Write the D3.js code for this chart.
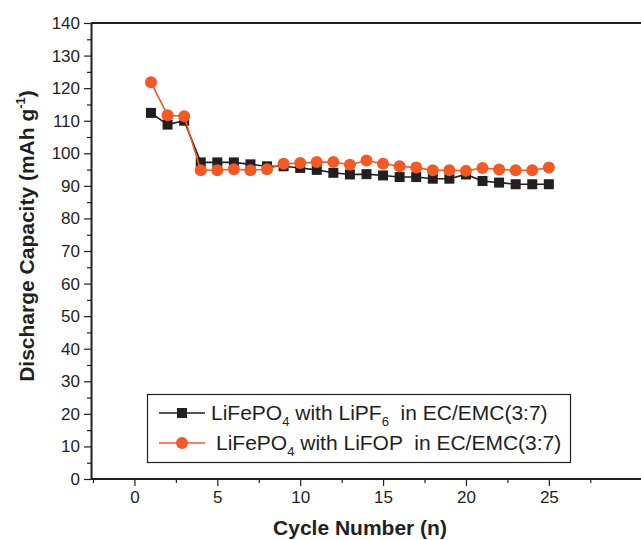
<!DOCTYPE html>
<html>
<head>
<meta charset="utf-8">
<script src="https://cdn.jsdelivr.net/npm/d3@7"></script>
<style>
  body { margin: 0; background: #fff; }
  text { font-family: Arial, "Liberation Sans", sans-serif; fill: #231f20; }
</style>
</head>
<body>
<div id="chart"></div>
<script>
// cycle numbers and discharge capacities
const cycles = d3.range(1, 26);
const lipf6 = [112.4, 108.8, 110.0, 97.2, 97.2, 97.2, 96.6, 96.0, 96.0, 95.5,
               94.9, 94.0, 93.5, 93.6, 93.2, 92.7, 92.7, 92.2, 92.2, 93.5,
               91.5, 91.0, 90.5, 90.5, 90.5];
const lifop = [121.8, 111.7, 111.4, 94.8, 94.8, 95.1, 94.8, 95.1, 96.8, 97.0,
               97.3, 97.3, 96.5, 97.8, 96.8, 96.0, 95.6, 94.8, 94.8, 94.6,
               95.5, 95.0, 94.8, 94.8, 95.6];
const xTicks = [0, 5, 10, 15, 20, 25];
const yTicks = d3.range(0, 141, 10);

const black = "#231f20";
const orange = "#f15a24";

const svg = d3.select("#chart").append("svg")
  .attr("width", 641).attr("height", 540);

const x = d3.scaleLinear().domain([-2.62, 30.5]).range([91, 640]);
const y = d3.scaleLinear().domain([0, 140]).range([479, 23]);
const x0 = x.domain()[0];

// frame: left axis, bottom axis and top border
svg.append("line").attr("x1", x(x0)).attr("x2", 641).attr("y1", y(140)).attr("y2", y(140))
  .attr("stroke", black).attr("stroke-width", 2);

const xAxis = svg.append("g").attr("transform", `translate(0,${y(0)})`)
  .call(d3.axisBottom(x).tickValues(xTicks).tickSize(7).tickSizeOuter(0).tickPadding(5));
svg.append("g").attr("transform", `translate(0,${y(0)})`)
  .call(d3.axisBottom(x).tickValues(d3.range(-2.5, 30, 5)).tickSize(4).tickFormat(""))
  .select(".domain").remove();

const yAxis = svg.append("g").attr("transform", `translate(${x(x0)},0)`)
  .call(d3.axisLeft(y).tickValues(yTicks).tickSize(7).tickSizeOuter(0).tickPadding(4));
svg.append("g").attr("transform", `translate(${x(x0)},0)`)
  .call(d3.axisLeft(y).tickValues(d3.range(5, 140, 10)).tickSize(4).tickFormat(""))
  .select(".domain").remove();

svg.selectAll(".domain").attr("stroke", black).attr("stroke-width", 2);
svg.selectAll(".tick line").attr("stroke", black).attr("stroke-width", 1.2);
svg.selectAll(".tick text").attr("font-size", 17).attr("fill", black)
  .attr("font-family", "Arial, 'Liberation Sans', sans-serif");
xAxis.select(".domain").attr("d", `M${x(x0)},0H641`);

// series
const series = [
  {values: lipf6, color: black, shape: "square"},
  {values: lifop, color: orange, shape: "circle"}
];

series.forEach(s => {
  const pts = cycles.map((c, i) => [c, s.values[i]]);
  svg.append("path")
    .attr("d", d3.line().x(d => x(d[0])).y(d => y(d[1]))(pts))
    .attr("fill", "none").attr("stroke", s.color).attr("stroke-width", 1.6);
  if (s.shape === "square") {
    svg.append("g").selectAll("rect").data(pts).join("rect")
      .attr("x", d => x(d[0]) - 5).attr("y", d => y(d[1]) - 5)
      .attr("width", 10).attr("height", 10).attr("fill", s.color);
  } else {
    svg.append("g").selectAll("circle").data(pts).join("circle")
      .attr("cx", d => x(d[0])).attr("cy", d => y(d[1]))
      .attr("r", 6).attr("fill", s.color);
  }
});

// legend
const lg = svg.append("g");
lg.append("rect").attr("x", 147.5).attr("y", 394.5).attr("width", 423).attr("height", 68)
  .attr("fill", "#fff").attr("stroke", black).attr("stroke-width", 1.2);

const legendRows = [
  {color: black, shape: "square", y: 413, tx: 211, parts: ["LiFePO", "4", " with LiPF", "6", "  in EC/EMC(3:7)"]},
  {color: orange, shape: "circle", y: 443, tx: 216, parts: ["LiFePO", "4", " with LiFOP  in EC/EMC(3:7)"]}
];
legendRows.forEach(r => {
  lg.append("line").attr("x1", 159).attr("x2", 205).attr("y1", r.y).attr("y2", r.y)
    .attr("stroke", r.color).attr("stroke-width", 1.6);
  if (r.shape === "square")
    lg.append("rect").attr("x", 177).attr("y", r.y - 5).attr("width", 10).attr("height", 10).attr("fill", r.color);
  else
    lg.append("circle").attr("cx", 182).attr("cy", r.y).attr("r", 6).attr("fill", r.color);
  const t = lg.append("text").attr("x", r.tx).attr("y", r.y + 7).attr("font-size", 21).style("white-space", "pre");
  r.parts.forEach((p, i) => {
    const sub = i % 2 === 1;
    t.append("tspan").attr("font-size", sub ? 13 : 21)
      .attr("dy", i === 0 ? 0 : (sub ? 6 : -6)).text(p);
  });
});

// axis titles
svg.append("text").attr("x", 360).attr("y", 535).attr("text-anchor", "middle")
  .attr("font-size", 21).attr("font-weight", "bold").text("Cycle Number (n)");

const yt = svg.append("text").attr("transform", `translate(34,236) rotate(-90)`)
  .attr("text-anchor", "middle").attr("font-size", 21).attr("font-weight", "bold");
yt.append("tspan").text("Discharge Capacity (mAh g");
yt.append("tspan").attr("font-size", 13).attr("dy", -9).text("-1");
yt.append("tspan").attr("dy", 9).text(")");
</script>
</body>
</html>
